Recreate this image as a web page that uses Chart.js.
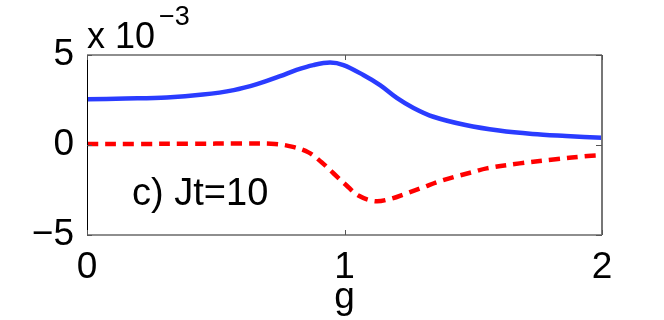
<!DOCTYPE html>
<html>
<head>
<meta charset="utf-8">
<script src="https://cdn.jsdelivr.net/npm/chart.js@4"></script>
<style>
  html, body { margin: 0; padding: 0; background: #fff; }
  canvas { display: block; }
</style>
</head>
<body>
<canvas id="grafico" width="664" height="320"></canvas>
<script>
// values in units of 10^-3
const gAzul = [0, 0.15, 0.31, 0.45, 0.57, 0.66, 0.75, 0.814, 0.879, 0.944, 0.996, 1.073, 1.138, 1.203, 1.268, 1.345, 1.47, 1.60, 1.73, 1.86, 2.0];
const valAzul = [2.54, 2.58, 2.64, 2.8, 3.05, 3.38, 3.82, 4.17, 4.44, 4.58, 4.44, 3.89, 3.33, 2.62, 2.06, 1.57, 1.11, 0.80, 0.61, 0.50, 0.40];

const gRojo = [0, 0.2, 0.4, 0.6, 0.73, 0.795, 0.86, 0.911, 0.957, 1.006, 1.054, 1.118, 1.177, 1.24, 1.306, 1.364, 1.43, 1.494, 1.552, 1.68, 1.82, 1.945, 2.0];
const valRojo = [0.06, 0.06, 0.07, 0.08, 0.06, -0.09, -0.41, -0.96, -1.57, -2.22, -2.81, -3.12, -3.0, -2.69, -2.35, -2.04, -1.76, -1.52, -1.30, -1.02, -0.79, -0.61, -0.56];

const ticksX = [0, 1, 2];
const ticksY = [-5, 0, 5];
const etiqueta = "c) Jt=10";

const FUENTE = "'Liberation Sans', Arial, sans-serif";

function puntos(xs, ys) {
    return xs.map((x, i) => ({ x: x, y: ys[i] }));
}

//PLUGIN PARA EL MARCO, LAS MARCAS INTERIORES Y LOS TEXTOS.
const marco = {
    id: 'marco',
    afterDraw(chart) {
        const ctx = chart.ctx;
        const a = chart.chartArea;
        const sx = chart.scales.x, sy = chart.scales.y;
        ctx.save();
        // box
        ctx.lineWidth = 1.5;
        ctx.strokeStyle = '#6a6a6a';
        ctx.beginPath();
        ctx.moveTo(a.left, a.top); ctx.lineTo(a.right, a.top);
        ctx.moveTo(a.left, a.bottom); ctx.lineTo(a.right, a.bottom);
        ctx.stroke();
        ctx.lineWidth = 2;
        ctx.strokeStyle = '#777';
        ctx.beginPath();
        ctx.moveTo(a.right, a.top); ctx.lineTo(a.right, a.bottom);
        ctx.stroke();
        ctx.lineWidth = 1;
        ctx.strokeStyle = '#000';
        ctx.beginPath();
        ctx.moveTo(a.left + 0.5, a.top); ctx.lineTo(a.left + 0.5, a.bottom);
        ctx.stroke();
        // inward ticks
        ctx.strokeStyle = '#555';
        ctx.lineWidth = 1;
        ctx.beginPath();
        ticksX.forEach(v => {
            const px = Math.round(sx.getPixelForValue(v)) + 0.5;
            ctx.moveTo(px, a.top); ctx.lineTo(px, a.top + 5);
            ctx.moveTo(px, a.bottom); ctx.lineTo(px, a.bottom - 5);
        });
        ticksY.forEach(v => {
            const py = Math.round(sy.getPixelForValue(v)) + 0.5;
            ctx.moveTo(a.left, py); ctx.lineTo(a.left + 5, py);
            ctx.moveTo(a.right, py); ctx.lineTo(a.right - 6, py);
        });
        ctx.stroke();
        // exponent
        ctx.fillStyle = '#000';
        ctx.textBaseline = 'alphabetic';
        ctx.textAlign = 'left';
        ctx.font = '36px ' + FUENTE;
        ctx.fillText('x 10', a.left, a.top - 7);
        const w = ctx.measureText('x 10').width;
        ctx.font = '27px ' + FUENTE;
        ctx.fillText('\u22123', a.left + w + 4, a.top - 30);
        // panel label
        ctx.font = '38px ' + FUENTE;
        ctx.fillText(etiqueta, sx.getPixelForValue(0.175), sy.getPixelForValue(-3.33));
        ctx.restore();
    }
};

const config = {
    type: 'scatter',
    data: {
        datasets: [
            {
                data: puntos(gRojo, valRojo),
                showLine: true,
                borderColor: '#ff0000',
                borderWidth: 4.5,
                borderDash: [11, 7],
                borderCapStyle: 'butt',
                tension: 0.35,
                pointRadius: 0
            },
            {
                data: puntos(gAzul, valAzul),
                showLine: true,
                borderColor: '#2a3cff',
                borderWidth: 4.5,
                tension: 0.35,
                pointRadius: 0
            }
        ]
    },
    options: {
        responsive: false,
        animation: false,
        layout: { padding: { left: 0, right: 62, top: 55, bottom: 0 } },
        plugins: { legend: { display: false }, tooltip: { enabled: false } },
        scales: {
            x: {
                type: 'linear',
                min: 0, max: 2,
                afterBuildTicks: s => { s.ticks = ticksX.map(v => ({ value: v })); },
                afterFit: s => { s.height = 85; },
                grid: { display: false },
                border: { display: false },
                ticks: { color: '#000', font: { family: FUENTE, size: 37 }, padding: 3, maxRotation: 0 },
                title: { display: true, text: 'g', color: '#000', font: { family: FUENTE, size: 37 }, padding: { top: 0, bottom: 0 } }
            },
            y: {
                type: 'linear',
                min: -5, max: 5,
                afterBuildTicks: s => { s.ticks = ticksY.map(v => ({ value: v })); },
                afterFit: s => { s.width = 87; },
                grid: { display: false },
                border: { display: false },
                ticks: {
                    color: '#000', font: { family: FUENTE, size: 37 }, padding: 5,
                    callback: v => String(v).replace('-', '\u2212')
                }
            }
        }
    },
    plugins: [marco]
};

new Chart(document.getElementById('grafico'), config);
</script>
</body>
</html>
